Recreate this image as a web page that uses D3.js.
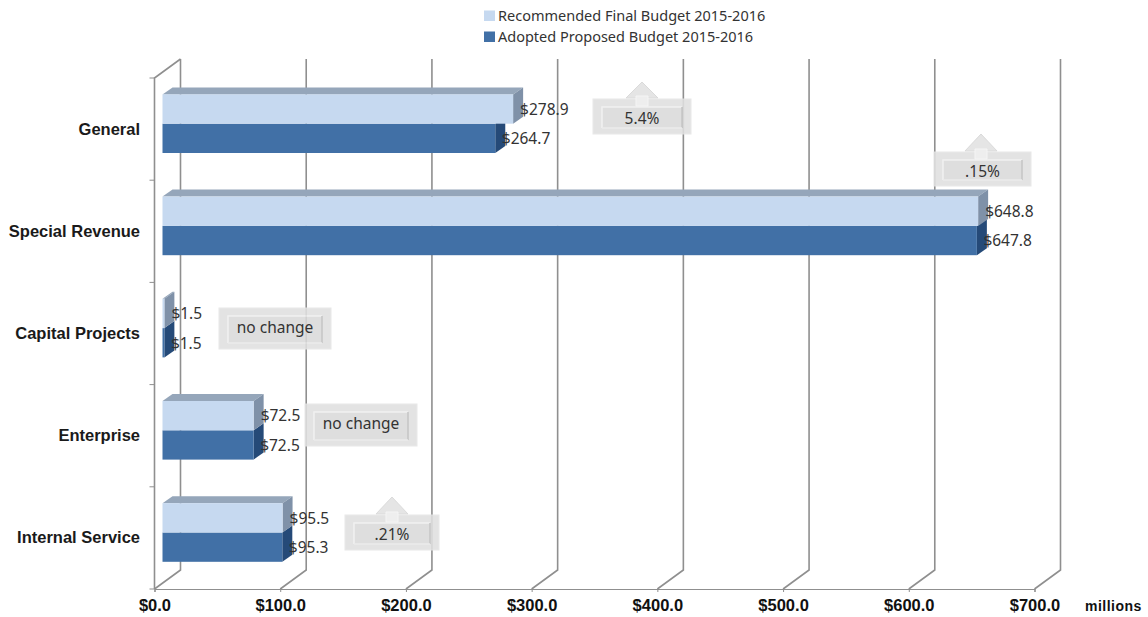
<!DOCTYPE html>
<html><head><meta charset="utf-8">
<script src="https://cdnjs.cloudflare.com/ajax/libs/d3/7.8.5/d3.min.js"></script>
<style>html,body{margin:0;padding:0;background:#fff}svg{display:block}</style>
</head><body><svg id="c" width="1148" height="617"></svg>
<script>
(function(){
const categories = ["General","Special Revenue","Capital Projects","Enterprise","Internal Service"];
const seriesNames = ["Recommended Final Budget 2015-2016","Adopted Proposed Budget 2015-2016"];
const recommended = [278.9,648.8,1.5,72.5,95.5];
const adopted = [264.7,647.8,1.5,72.5,95.3];
const ticks = [0,100,200,300,400,500,600,700];
const calloutTexts = ["5.4%",".15%","no change","no change",".21%"];
const calloutArrows = [true,true,false,false,true];

const svg=d3.select("#c");
const LABEL='"Noto Sans",sans-serif', BOLD='"Liberation Sans",Arial,sans-serif';
const GRID="#8f8f8f";
const plotTop=78,plotBottom=589,depthX=26,depthY=19,barInset=8,barDX=10,barDY=7;
const x=d3.scaleLinear().domain([0,700]).range([154.5,1034.5]);
const y=d3.scaleBand().domain(categories).range([plotTop,plotBottom]);
const barBand=d3.scaleBand().domain(seriesNames).range([16.4,16.4+58.6]);

// back wall and floor
const wall=svg.append("g").attr("fill","none").attr("stroke",GRID);
wall.selectAll("path.g").data(ticks).join("path").attr("class","g").attr("stroke-width",1.6)
  .attr("d",t=>`M${x(t)},${plotBottom}L${x(t)+depthX},${plotBottom-depthY}L${x(t)+depthX},${plotTop-depthY}`);
wall.append("path").attr("stroke-width",1.6)
  .attr("d",`M${x(0)},${plotBottom}L${x(0)},${plotTop}L${x(0)+depthX},${plotTop-depthY}`);
wall.selectAll("line.t").data(d3.range(6)).join("line").attr("class","t")
  .attr("x1",x(0)-5).attr("x2",x(0)).attr("stroke-width",1)
  .attr("y1",i=>plotTop+i*y.step()).attr("y2",i=>plotTop+i*y.step());

// floor axis with tick labels
const axis=svg.append("g").attr("transform",`translate(0,${plotBottom})`)
  .call(d3.axisBottom(x).tickValues(ticks).tickSize(3).tickPadding(7).tickFormat(d=>"$"+d3.format(".1f")(d)));
axis.select(".domain").attr("stroke",GRID).attr("stroke-width",1.2);
axis.selectAll("line").attr("stroke",GRID);
axis.selectAll("text").attr("font-family",BOLD).attr("font-weight","bold").attr("font-size",16.5).attr("fill","#111");

svg.append("text").attr("x",1085).attr("y",611).attr("font-family",BOLD).attr("font-weight","bold")
  .attr("font-size",14).attr("letter-spacing",.5).attr("fill","#111").text("millions");

// category labels
svg.append("g").selectAll("text").data(categories).join("text")
  .attr("x",140).attr("y",c=>y(c)+y.bandwidth()/2+5.5).attr("text-anchor","end")
  .attr("font-family",BOLD).attr("font-weight","bold").attr("font-size",16.5)
  .attr("fill","#1a1a1a").text(c=>c);

// 3D bars
const styles=[{front:"#c6d9f0",side:"#7f91a8",topc:"#95a6ba"},{front:"#4170a6",side:"#254a78",topc:"#4170a6"}];
const rows=[recommended,adopted];
const bars=svg.append("g");
[1,0].forEach(s=>{
  const g=bars.append("g");
  categories.forEach((c,i)=>{
    const v=rows[s][i],x0=x(0)+barInset,x1=x(v)+barInset,yt=y(c)+barBand(seriesNames[s]),h=barBand.bandwidth();
    if(s===0) g.append("path").attr("fill",styles[s].topc)
      .attr("d",`M${x0},${yt}L${x0+barDX},${yt-barDY}L${x1+barDX},${yt-barDY}L${x1},${yt}Z`);
    g.append("path").attr("fill",styles[s].side)
      .attr("d",`M${x1},${yt}L${x1+barDX},${yt-barDY}L${x1+barDX},${yt+h-barDY}L${x1},${yt+h}Z`);
    g.append("rect").attr("x",x0).attr("y",yt).attr("width",x1-x0).attr("height",h).attr("fill",styles[s].front);
    g.append("text").attr("x",x1+(s===0?7:6.5)).attr("y",yt+h/2+5.8)
      .attr("font-family",LABEL).attr("font-size",15.5).attr("fill","#333").text("$"+d3.format(".1f")(v));
  });
});

// legend
const lg=svg.append("g");
seriesNames.forEach((n,i)=>{
  const yy=[16,37][i];
  lg.append("rect").attr("x",484).attr("y",yy-5.5).attr("width",11).attr("height",10.5).attr("fill",styles[i].front);
  lg.append("text").attr("x",498).attr("y",yy+5).attr("font-family",LABEL).attr("font-size",14.5).attr("fill","#333").text(n);
});

// callouts
const boxes=[[593,99,98,35,642,82],[934,152,97,34,981,134],[219,308,112,41],[305,404,112,42],[345,515,94,35,392,497]];
calloutTexts.forEach((t,i)=>{
  const [bx,by,bw,bh,ax,ay]=boxes[i];
  const g=svg.append("g").attr("opacity",.88);
  if(calloutArrows[i]){
    g.append("path").attr("fill","#e2e2e2").attr("stroke","#d6d6d6")
      .attr("d",`M${ax},${ay}L${ax+16},${by-1}L${ax-16},${by-1}Z`);
  }
  g.append("rect").attr("x",bx).attr("y",by).attr("width",bw).attr("height",bh).attr("fill","#e0e0e0").attr("stroke","#e6e6e6").attr("stroke-width",1);
  g.append("rect").attr("x",bx+9).attr("y",by+8).attr("width",bw-18).attr("height",bh-14).attr("fill","#dadada");
  g.append("path").attr("fill","none").attr("stroke","#efefef").attr("stroke-width",1.5)
    .attr("d",`M${bx+9},${by+bh-6}L${bx+9},${by+8}L${bx+bw-9},${by+8}`);
  g.append("path").attr("fill","none").attr("stroke","#bdbdbd").attr("stroke-width",1.5)
    .attr("d",`M${bx+bw-9},${by+8}L${bx+bw-9},${by+bh-6}`);
  g.append("path").attr("fill","none").attr("stroke","#e8e8e8").attr("stroke-width",1.5)
    .attr("d",`M${bx+9},${by+bh-6}L${bx+bw-9},${by+bh-6}`);
  if(calloutArrows[i]){
    g.append("path").attr("fill","#ececec").attr("stroke","#f4f4f4")
      .attr("d",`M${ax-6},${by-3}L${ax+6},${by-3}L${ax+6},${by+7}L${ax-6},${by+7}Z`);
  }
  svg.append("text").attr("x",bx+bw/2).attr("y",by+bh/2+(calloutArrows[i]?7.5:4)).attr("text-anchor","middle")
    .attr("font-family",LABEL).attr("font-size",15.5).attr("fill","#333").text(t);
});
})();
</script></body></html>
